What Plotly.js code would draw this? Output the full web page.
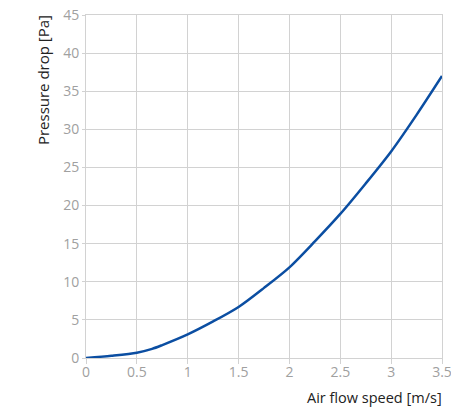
<!DOCTYPE html>
<html>
<head>
<meta charset="utf-8">
<script src="https://cdn.plot.ly/plotly-3.0.1.min.js"></script>
<style>html,body{margin:0;padding:0;background:#fff;}#chart{width:451px;height:408px;}</style>
</head>
<body>
<div id="chart"></div>
<script>
var speed = [0, 0.25, 0.5, 0.65, 0.75, 1, 1.25, 1.5, 1.75, 2, 2.25, 2.5, 2.75, 3, 3.25, 3.5];
var pressure = [0, 0.3, 0.7, 1.2, 1.7, 3.1, 4.8, 6.7, 9.2, 11.9, 15.3, 18.9, 22.9, 27.1, 31.9, 37.0];
var xTicks = [0, 0.5, 1, 1.5, 2, 2.5, 3, 3.5];
var xTickText = ['0', '0.5', '1', '1.5', '2', '2.5', '3', '3.5'];
var yTicks = [0, 5, 10, 15, 20, 25, 30, 35, 40, 45];
var xTitle = 'Air flow speed [m/s]';
var yTitle = 'Pressure drop [Pa]';

var gridColor = '#d2d2d2';
var tickFont = {family: 'Open Sans, sans-serif', size: 14, color: '#a0a0a0'};

var trace = {
  x: speed, y: pressure, type: 'scatter', mode: 'lines',
  line: {color: '#0b4ea2', width: 2.5, shape: 'spline', smoothing: 0.8},
  hoverinfo: 'skip'
};

var layout = {
  width: 451, height: 408,
  margin: {l: 86, r: 9, t: 15, b: 50},
  paper_bgcolor: '#ffffff', plot_bgcolor: '#ffffff',
  showlegend: false,
  xaxis: {
    range: [0, 3.5], tickvals: xTicks, ticktext: xTickText,
    showgrid: true, gridcolor: gridColor, gridwidth: 1,
    zeroline: false, showline: true, linecolor: gridColor, linewidth: 1, mirror: true,
    ticks: 'outside', ticklen: 5, tickcolor: gridColor, tickwidth: 1,
    ticklabelstandoff: -4, ticklabeloverflow: 'allow',
    tickfont: tickFont, fixedrange: true
  },
  yaxis: {
    range: [0, 45], tickvals: yTicks,
    showgrid: true, gridcolor: gridColor, gridwidth: 1,
    zeroline: false, showline: true, linecolor: gridColor, linewidth: 1, mirror: true,
    ticks: 'outside', ticklen: 3, tickcolor: gridColor, tickwidth: 1,
    ticklabeloverflow: 'allow',
    tickfont: tickFont, fixedrange: true
  },
  annotations: [
    {text: xTitle, xref: 'paper', yref: 'paper', x: 1.006, y: -0.116,
     xanchor: 'right', yanchor: 'middle', showarrow: false,
     font: {family: 'Open Sans, sans-serif', size: 14.5, color: '#222222'}},
    {text: yTitle, xref: 'paper', yref: 'paper', x: -0.121, y: 0.81,
     xanchor: 'center', yanchor: 'middle', showarrow: false, textangle: -90,
     font: {family: 'Open Sans, sans-serif', size: 15, color: '#222222'}}
  ]
};

Plotly.newPlot('chart', [trace], layout, {displayModeBar: false, staticPlot: true});
</script>
</body>
</html>
